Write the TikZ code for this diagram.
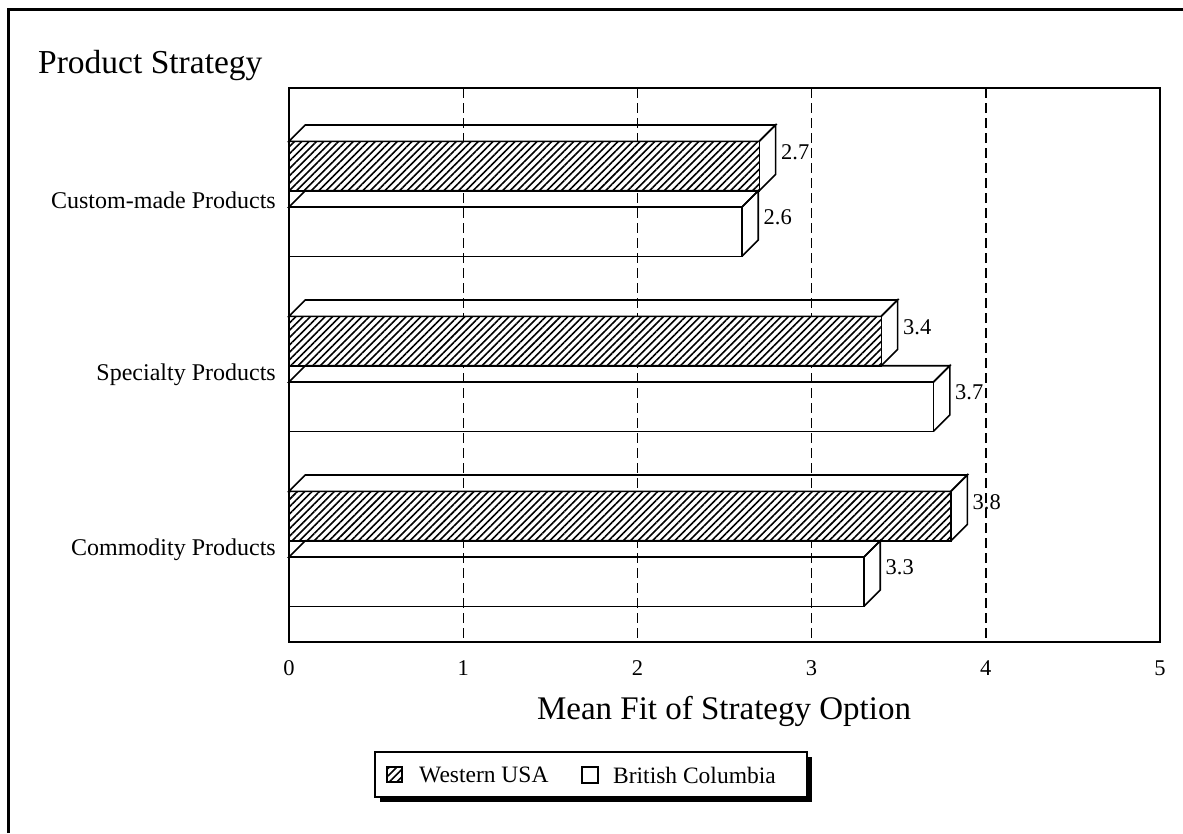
\documentclass[tikz,border=0pt]{standalone}
\usepackage{fontspec}
\setmainfont{Liberation Serif}
\usetikzlibrary{patterns.meta}
\tikzset{
  baredge/.style={draw=black,line width=1.6pt,line join=miter},
  hatchfill/.style={preaction={fill=white},pattern={Lines[angle=45,distance=5.2pt,line width=1.6pt]}},
  gridline/.style={line width=1.4pt,dash pattern=on 10pt off 5pt},
  ticklbl/.style={font=\fontsize{22.5}{26}\selectfont,inner sep=0pt},
  vallbl/.style={font=\fontsize{22.5}{26}\selectfont,inner sep=0pt,anchor=west},
  catlbl/.style={font=\fontsize{24}{28}\selectfont,inner sep=0pt,anchor=east},
  leglbl/.style={font=\fontsize{23.5}{27}\selectfont,inner sep=0pt,anchor=west}
}
\newcommand\drawbar[4]{%
  \path[#4] (289,#2) rectangle (#1,#3);
  \draw[baredge] (289,#2) -- ++(16.3,-16.3) -- ({#1+16.3},{#2-16.3}) -- (#1,#2) -- cycle;
  \draw[baredge] (#1,#2) -- ({#1+16.3},{#2-16.3}) -- ({#1+16.3},{#3-16.3}) -- (#1,#3);
  \draw[baredge] (289,#2) rectangle (#1,#3);
}
\begin{document}
\begin{tikzpicture}[x=1pt,y=-1pt]
\useasboundingbox (0,0) rectangle (1183,833);
\fill[white] (0,0) rectangle (1183,833);
% outer frame (top and left only visible)
\draw[line width=3pt] (8,833) -- (8,9) -- (1183,9);
% title
\node[anchor=base west,inner sep=0pt,font=\fontsize{33.5}{40}\selectfont] (title) at (38,73) {Product Strategy};
% grid
\foreach \gx in {463.2,637.4,811.6,985.8} \draw[gridline] (\gx,88) -- (\gx,642);
% plot frame
\draw[line width=2.2pt] (289,88) rectangle (1160,642);
% bars: Custom-made
\drawbar{759.3}{141.3}{190.7}{hatchfill}
\drawbar{741.9}{207}{256.3}{}
% Specialty
\drawbar{881.3}{316.3}{365.7}{hatchfill}
\drawbar{933.5}{382}{431.3}{}
% Commodity
\drawbar{951.0}{491.3}{540.7}{hatchfill}
\drawbar{863.9}{557}{606.3}{}
% value labels
\node[vallbl] (v1) at (781,152) {2.7};
\node[vallbl] (v2) at (763.5,217) {2.6};
\node[vallbl] (v3) at (903,327) {3.4};
\node[vallbl] (v4) at (955,392) {3.7};
\node[vallbl] (v5) at (972.5,502) {3.8};
\node[vallbl] (v6) at (885.5,567) {3.3};
% category labels
\node[catlbl] (c1) at (276,200) {Custom-made Products};
\node[catlbl] (c2) at (276,375) {Specialty Products};
\node[catlbl] (c3) at (276,550) {Commodity Products};
% tick labels
\node[ticklbl] (t0) at (289,668) {0};
\node[ticklbl] (t1) at (463.2,668) {1};
\node[ticklbl] (t2) at (637.4,668) {2};
\node[ticklbl] (t3) at (811.6,668) {3};
\node[ticklbl] (t4) at (985.8,668) {4};
\node[ticklbl] (t5) at (1160,668) {5};
% axis title
\node[anchor=base,inner sep=0pt,font=\fontsize{33}{40}\selectfont] (xt) at (724,719) {Mean Fit of Strategy Option};
% legend
\fill[black] (380,757) rectangle (811.5,802);
\draw[line width=1.3pt,fill=white] (375,752) rectangle (807,797);
\path[hatchfill] (387,767) rectangle (402,782);
\draw[line width=1.3pt] (387,767) rectangle (402,782);
\node[leglbl] (l1) at (419,775) {Western USA};
\draw[line width=1.3pt] (582,767) rectangle (598,783);
\node[leglbl] (l2) at (613,775) {British Columbia};
\end{tikzpicture}
\end{document}
